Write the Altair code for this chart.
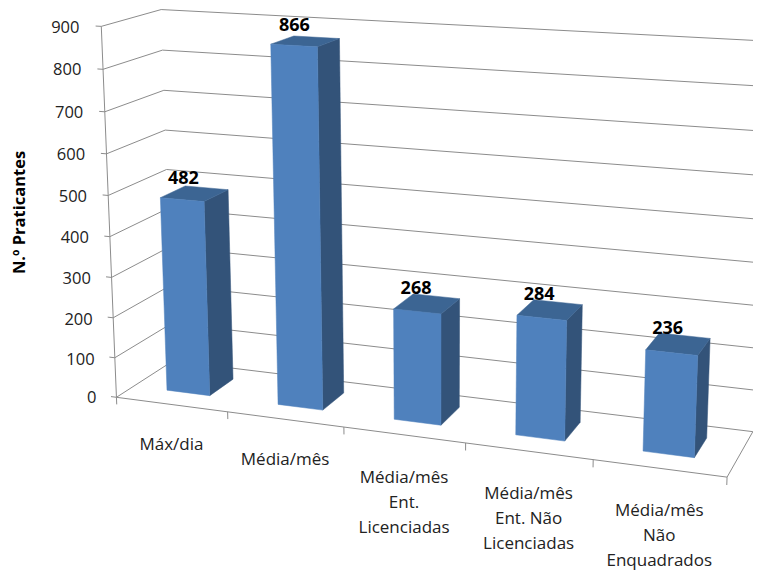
import altair as alt
import numpy as np
import pandas as pd

# ---- chart values ----
categories = ["Máx/dia", "Média/mês", "Média/mês\nEnt.\nLicenciadas",
              "Média/mês\nEnt. Não\nLicenciadas", "Média/mês\nNão\nEnquadrados"]
values = [482, 866, 268, 284, 236]
y_ticks = [0, 100, 200, 300, 400, 500, 600, 700, 800, 900]
axis_title = "N.º Praticantes"

FONT = "Open Sans"
C_FRONT, C_SIDE, C_TOP = "#4f81bd", "#335379", "#3c6593"
C_GRID = "#8c8c8c"
BAR_HALF, W0, W1 = 0.195, 0.30, 0.74

# ---- camera calibration of the pseudo 3-D box: (category pos, value, depth) -> picture ----
calib = [
    (0, 0, 0, 118, 397), (1, 0, 0, 228, 411.6), (2, 0, 0, 344, 427), (3, 0, 0, 465, 443),
    (4, 0, 0, 592, 460), (5, 0, 0, 728, 478), (0, 0, 1, 170, 362), (5, 0, 1, 753, 430),
    (0, 900, 0, 99, 26), (0, 500, 0, 108, 196), (0, 100, 0, 116, 357),
    (0, 900, 1, 163, 9), (0, 800, 1, 163, 50), (0, 500, 1, 167, 170),
    (5, 900, 1, 768, 41.5), (5, 600, 1, 763, 176), (5, 200, 1, 757, 348),
]
rows = []
for u, v, w, x, y in calib:
    X = [u, v / 900, w, 1]
    a, b = x / 1000, y / 1000
    rows.append(X + [0, 0, 0, 0] + [-a * t for t in X])
    rows.append([0, 0, 0, 0] + X + [-b * t for t in X])
P = np.linalg.svd(np.array(rows))[2][-1].reshape(3, 4)

EXP, Y0, Y900 = 1.04, 397.0, 27.0


def project(u, v, w):
    h = P @ np.array([u, v / 900, w, 1.0])
    px, py = 1000 * h[0] / h[2], 1000 * h[1] / h[2]
    t = (Y0 - py) / (Y0 - Y900)
    return float(px), float(np.sign(t) * abs(t) ** (1 / EXP) * 900)


def record(store, key, pts):
    for i, (u, v, w) in enumerate(pts):
        x, y = project(u, v, w)
        store.append({"k": key, "o": i, "x": x, "y": y})


lines = []
for v in y_ticks:
    record(lines, f"g{v}", [(0, v, 0), (0, v, 1), (5.2, v, 1)] if v else [(0, 0, 0), (0, 0, 1), (5, 0, 1), (5, 0, 0), (0, 0, 0)])
    record(lines, f"t{v}", [(-0.05, v, 0), (0, v, 0)])
record(lines, "left", [(0, 0, 0), (0, 900, 0)])
for i in range(6):
    record(lines, f"b{i}", [(i, 0, 0), (i, -18, 0)])

front, side, top, cat_rows, val_rows = [], [], [], [], []
for i, (name, val) in enumerate(zip(categories, values)):
    u0, u1 = i + 0.5 - BAR_HALF, i + 0.5 + BAR_HALF
    record(front, i, [(u0, 0, W0), (u1, 0, W0), (u1, val, W0), (u0, val, W0), (u0, 0, W0)])
    record(side, i, [(u1, 0, W0), (u1, 0, W1), (u1, val, W1), (u1, val, W0), (u1, 0, W0)])
    record(top, i, [(u0, val, W0), (u1, val, W0), (u1, val, W1), (u0, val, W1), (u0, val, W0)])
    x, y = project(i + 0.5, -5 if "\n" in name else 0, 0)
    cat_rows.append({"x": x, "y": y, "t": name})
    x, y = project(i + 0.5, val, 0.5)
    val_rows.append({"x": x, "y": y, "t": str(val)})

x_enc = alt.X("x:Q", scale=alt.Scale(domain=[8, 753], range=[0, 745], nice=False, zero=False), axis=None)
y_scale = alt.Scale(type="pow", exponent=EXP, domain=[0, 900], range=[Y0 - 8, Y900 - 8], nice=False, zero=False)
y_axis = alt.Axis(
    values=y_ticks, title=axis_title, ticks=False, domain=False, grid=False, offset=-88,
    labelPadding={"expr": "datum.value * 17 / 900"}, labelFont=FONT, labelFontSize=16.5, labelColor="#222222",
    titleFont=FONT, titleFontSize=16.5, titleFontWeight="bold", titleColor="#000000", titleAngle=-90,
    titleX=-77, titleY=204, titleAlign="center", titleBaseline="middle",
)
y_enc = alt.Y("y:Q", scale=y_scale, axis=y_axis)


def poly(data, color):
    return alt.Chart(pd.DataFrame(data)).mark_line(
        fill=color, stroke=color, strokeWidth=0.5, clip=False
    ).encode(x=x_enc, y=y_enc, detail="k:N", order="o:Q")


grid = alt.Chart(pd.DataFrame(lines)).mark_line(color=C_GRID, strokeWidth=1, clip=False).encode(
    x=x_enc, y=y_enc, detail="k:N", order="o:Q")
cat_text = alt.Chart(pd.DataFrame(cat_rows)).mark_text(
    font=FONT, fontSize=17, color="#222222", lineBreak="\n", lineHeight=25, baseline="middle", align="center", dy=41
).encode(x=x_enc, y=y_enc, text="t:N")
val_text = alt.Chart(pd.DataFrame(val_rows)).mark_text(
    font=FONT, fontSize=18, fontWeight="bold", color="#000000", baseline="middle", align="center", dx=-10, dy=-15.5
).encode(x=x_enc, y=y_enc, text="t:N")

chart = alt.layer(grid, poly(side, C_SIDE), poly(top, C_TOP), poly(front, C_FRONT), cat_text, val_text).properties(
    width=745, height=564, padding=0, autosize=alt.AutoSizeParams(type="none"), background="white"
).configure_view(stroke=None)

chart.save("out.html", embed_options={"renderer": "svg", "actions": False})
